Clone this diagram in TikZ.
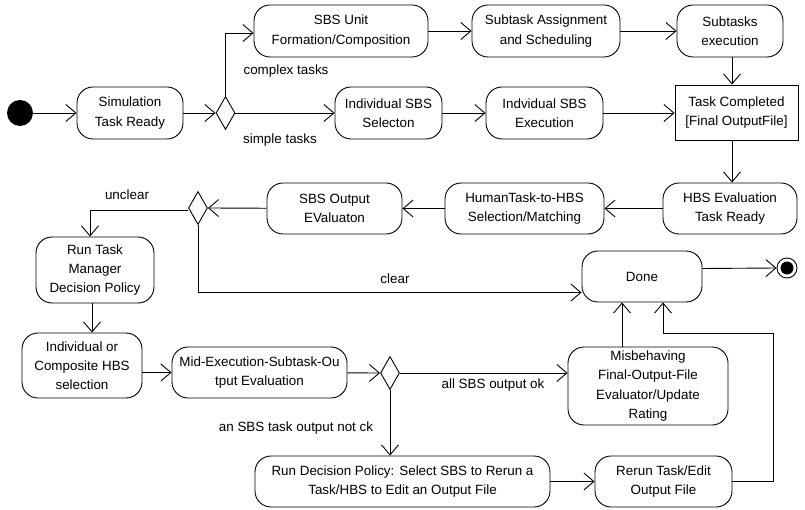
\documentclass[tikz,border=0pt]{standalone}
\usepackage{fontspec}
\setmainfont{Liberation Sans}
\usetikzlibrary{shapes.geometric,arrows.meta}
\newcommand\dfont{\fontsize{13.4}{19.2}\selectfont}
\begin{document}
\begin{tikzpicture}[x=1pt,y=-1pt,
  every node/.style={font=\dfont},
  act/.style={draw, rounded corners=16pt, align=center, inner sep=0pt, line width=0.9pt},
  rbox/.style={draw, align=center, inner sep=0pt, line width=0.9pt},
  dia/.style={draw, diamond, inner sep=0pt, line width=0.9pt, minimum width=19pt, minimum height=33pt},
  flow/.style={draw, line width=0.9pt, -{Straight Barb[length=10pt,width=17pt,line width=0.9pt]}},
  lbl/.style={inner sep=0pt}]
\useasboundingbox (0,0) rectangle (805,510);
% nodes
\node[circle, fill=black, minimum size=26pt, inner sep=0pt] (start) at (20,113) {};
\node[act, minimum width=106pt, minimum height=52pt] (sim) at (130,113) {Simulation\\Task Ready};
\node[dia] (d1) at (225.5,113) {};
\node[act, minimum width=174pt, minimum height=52pt] (unit) at (341,31) {SBS Unit\\Formation/Composition};
\node[act, minimum width=148pt, minimum height=52pt] (assign) at (546,31) {Subtask Assignment\\and Scheduling};
\node[act, minimum width=106pt, minimum height=52pt] (subexec) at (730,31) {Subtasks\\execution};
\node[act, minimum width=107pt, minimum height=52pt] (indsel) at (388.5,113) {Individual SBS\\Selecton};
\node[act, minimum width=117pt, minimum height=52pt] (indexec) at (544.5,113) {Indvidual SBS\\Execution};
\node[rbox, minimum width=123pt, minimum height=55pt] (taskc) at (736.5,112.5) {Task Completed\\{[Final OutputFile]}};
\node[act, minimum width=134pt, minimum height=51pt] (hbseval) at (730,208.5) {HBS Evaluation\\Task Ready};
\node[act, minimum width=159pt, minimum height=51pt] (human) at (524.5,208.5) {HumanTask-to-HBS\\Selection/Matching};
\node[act, minimum width=135pt, minimum height=51pt] (sbsout) at (334.5,208.5) {SBS Output\\EValuaton};
\node[dia] (d2) at (198,208) {};
\node[act, minimum width=118pt, minimum height=66pt] (runtask) at (95,270) {Run Task\\Manager\\Decision Policy};
\node[act, minimum width=120pt, minimum height=51pt] (done) at (642,276.5) {Done};
\node[circle, draw, line width=0.9pt, minimum size=20pt, inner sep=0pt] (final) at (787,268) {};
\node[circle, fill=black, minimum size=13pt, inner sep=0pt] (finalin) at (787,268) {};
\node[act, minimum width=120pt, minimum height=65pt] (indcomp) at (82,365.5) {Individual or\\Composite HBS\\selection};
\node[act, minimum width=175pt, minimum height=51pt] (mid) at (259.5,372.5) {Mid-Execution-Subtask-Ou\\tput Evaluation};
\node[dia] (d3) at (390,373) {};
\node[act, minimum width=160pt, minimum height=78pt] (misb) at (648,386) {Misbehaving\\Final-Output-File\\Evaluator/Update\\Rating};
\node[act, minimum width=295pt, minimum height=51pt] (rundec) at (402.5,481.5) {Run Decision Policy: Select SBS to Rerun a\\Task/HBS to Edit an Output File};
\node[act, minimum width=137pt, minimum height=51pt] (rerun) at (663.5,481.5) {Rerun Task/Edit\\Output File};
% labels
\node[lbl] (lcomplex) at (286,71) {complex tasks};
\node[lbl] (lsimple) at (280,140) {simple tasks};
\node[lbl] (lunclear) at (127,195) {unclear};
\node[lbl] (lclear) at (395,279) {clear};
\node[lbl] (lallok) at (493,385) {all SBS output ok};
\node[lbl] (lnotok) at (296,428) {an SBS task output not ck};
\coordinate (loop) at (773,333);
% connectors
\draw[flow] (start) -- (sim);
\draw[flow] (sim) -- (d1.west);
\draw[flow] (d1.north) |- ([yshift=-2pt]unit.west);
\draw[flow] (d1.east) -- (indsel.west);
\draw[flow] (unit) -- (assign);
\draw[flow] (assign) -- (subexec);
\draw[flow] (indsel) -- (indexec);
\draw[flow] (indexec.east) -- (indexec.east -| taskc.west);
\draw[flow] ([xshift=2pt]subexec.south) -- ([xshift=2pt]subexec.south |- taskc.north);
\draw[flow] ([xshift=2pt]hbseval.north |- taskc.south) -- ([xshift=2pt]hbseval.north);
\draw[flow] (hbseval) -- (human);
\draw[flow] (human) -- (sbsout);
\draw[flow] (sbsout) -- (d2.east);
\draw[flow] ([yshift=-2pt]d2.west) -| ([xshift=-5pt]runtask.north);
\draw[flow] ([xshift=-3pt]runtask.south) -- ([xshift=-3pt]runtask.south |- indcomp.north);
\draw[flow] (d2.south) |- ([yshift=-16pt]done.west);
\draw[flow] ([yshift=8pt]done.east) -- (final.west);
\draw[flow] (indcomp.east |- mid.west) -- (mid.west);
\draw[flow] (mid) -- (d3.west);
\draw[flow] (d3.east) -- (d3.east -| misb.west);
\draw[flow] (d3.south) -- (d3.south |- rundec.north);
\draw[flow] ([xshift=-26pt]misb.north) -- ([xshift=-26pt]misb.north |- done.south);
\draw[flow] (rundec.east |- rerun.west) -- (rerun.west);
\draw[flow] (rerun.east) -| (loop) -| ([xshift=21pt]done.south);
\end{tikzpicture}
\end{document}
